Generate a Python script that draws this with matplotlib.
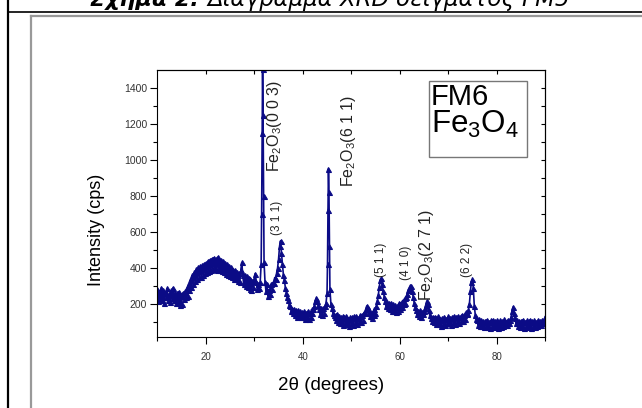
import matplotlib
matplotlib.use("Agg")
import matplotlib.pyplot as plt
from matplotlib.lines import Line2D
from matplotlib.patches import Rectangle

plt.rcParams['font.family'] = ['Liberation Sans', 'DejaVu Sans']
plt.rcParams['mathtext.fontset'] = 'custom'
plt.rcParams['mathtext.rm'] = 'Liberation Sans'
plt.rcParams['mathtext.it'] = 'Liberation Sans:italic'

# XRD scan (2theta in degrees, intensity in cps)
two_theta = [
    10.0, 10.2, 10.4, 10.6, 10.8, 11.0, 11.2, 11.4, 11.6, 11.8,
    12.0, 12.2, 12.4, 12.6, 12.8, 13.0, 13.2, 13.4, 13.6, 13.8,
    14.0, 14.2, 14.4, 14.6, 14.8, 15.0, 15.2, 15.4, 15.6, 15.8,
    16.0, 16.2, 16.4, 16.6, 16.8, 17.0, 17.2, 17.4, 17.6, 17.8,
    18.0, 18.2, 18.4, 18.6, 18.8, 19.0, 19.2, 19.4, 19.6, 19.8,
    20.0, 20.2, 20.4, 20.6, 20.8, 21.0, 21.2, 21.4, 21.6, 21.8,
    22.0, 22.2, 22.4, 22.6, 22.8, 23.0, 23.2, 23.4, 23.6, 23.8,
    24.0, 24.2, 24.4, 24.6, 24.8, 25.0, 25.2, 25.4, 25.6, 25.8,
    26.0, 26.2, 26.4, 26.6, 26.8, 27.0, 27.2, 27.4, 27.6, 27.8,
    28.0, 28.2, 28.4, 28.6, 28.8, 29.0, 29.2, 29.4, 29.6, 29.8,
    30.0, 30.2, 30.4, 30.6, 30.8,
    31.0, 31.2, 31.4, 31.5, 31.6, 31.7, 31.8, 31.9,
    32.0, 32.2, 32.4, 32.6, 32.8, 33.0, 33.2, 33.4, 33.6, 33.8,
    34.0, 34.2, 34.4, 34.6, 34.8, 35.0, 35.2, 35.4, 35.6, 35.8,
    36.0, 36.2, 36.4, 36.6, 36.8, 37.0, 37.2, 37.4, 37.6, 37.8,
    38.0, 38.2, 38.4, 38.6, 38.8, 39.0, 39.2, 39.4, 39.6, 39.8,
    40.0, 40.2, 40.4, 40.6, 40.8, 41.0, 41.2, 41.4, 41.6, 41.8,
    42.0, 42.2, 42.4, 42.6, 42.8, 43.0, 43.2, 43.4, 43.6, 43.8,
    44.0, 44.2, 44.4, 44.6, 44.8,
    45.0, 45.1, 45.2, 45.3, 45.4, 45.5, 45.6, 45.8,
    46.0, 46.2, 46.4, 46.6, 46.8, 47.0, 47.2, 47.4, 47.6, 47.8,
    48.0, 48.2, 48.4, 48.6, 48.8, 49.0, 49.2, 49.4, 49.6, 49.8,
    50.0, 50.2, 50.4, 50.6, 50.8, 51.0, 51.2, 51.4, 51.6, 51.8,
    52.0, 52.2, 52.4, 52.6, 52.8, 53.0, 53.2, 53.4, 53.6, 53.8,
    54.0, 54.2, 54.4, 54.6, 54.8, 55.0, 55.2, 55.4, 55.6, 55.8,
    56.0, 56.2, 56.4, 56.6, 56.8, 57.0, 57.2, 57.4, 57.6, 57.8,
    58.0, 58.2, 58.4, 58.6, 58.8, 59.0, 59.2, 59.4, 59.6, 59.8,
    60.0, 60.2, 60.4, 60.6, 60.8, 61.0, 61.2, 61.4, 61.6, 61.8,
    62.0, 62.2, 62.4, 62.6, 62.8, 63.0, 63.2, 63.4, 63.6, 63.8,
    64.0, 64.2, 64.4, 64.6, 64.8, 65.0, 65.2, 65.4, 65.6, 65.8,
    66.0, 66.2, 66.4, 66.6, 66.8, 67.0, 67.2, 67.4, 67.6, 67.8,
    68.0, 68.2, 68.4, 68.6, 68.8, 69.0, 69.2, 69.4, 69.6, 69.8,
    70.0, 70.2, 70.4, 70.6, 70.8, 71.0, 71.2, 71.4, 71.6, 71.8,
    72.0, 72.2, 72.4, 72.6, 72.8, 73.0, 73.2, 73.4, 73.6, 73.8,
    74.0, 74.2, 74.4, 74.6, 74.8, 75.0, 75.2, 75.4, 75.6, 75.8,
    76.0, 76.2, 76.4, 76.6, 76.8, 77.0, 77.2, 77.4, 77.6, 77.8,
    78.0, 78.2, 78.4, 78.6, 78.8, 79.0, 79.2, 79.4, 79.6, 79.8,
    80.0, 80.2, 80.4, 80.6, 80.8, 81.0, 81.2, 81.4, 81.6, 81.8,
    82.0, 82.2, 82.4, 82.6, 82.8, 83.0, 83.2, 83.4, 83.6, 83.8,
    84.0, 84.2, 84.4, 84.6, 84.8, 85.0, 85.2, 85.4, 85.6, 85.8,
    86.0, 86.2, 86.4, 86.6, 86.8, 87.0, 87.2, 87.4, 87.6, 87.8,
    88.0, 88.2, 88.4, 88.6, 88.8, 89.0, 89.2, 89.4, 89.6, 89.8,
    90.0]
intensity = [
    280, 214, 266, 230, 290, 222, 274, 206, 260, 240,
    286, 220, 254, 210, 274, 230, 290, 222, 260, 206,
    258, 212, 268, 192, 248, 201, 260, 225, 269, 236,
    285, 245, 305, 275, 332, 292, 358, 312, 374, 328,
    392, 336, 404, 351, 410, 351, 414, 360, 422, 371,
    429, 374, 438, 382, 444, 386, 450, 394, 456, 399,
    451, 386, 460, 398, 446, 386, 445, 382, 435, 374,
    426, 366, 420, 358, 408, 352, 406, 346, 390, 338,
    386, 335, 378, 327, 370, 321, 387, 430, 362, 308,
    362, 300, 355, 292, 344, 283, 339, 275, 328, 294,
    340, 368, 320, 280, 312,
    285, 320, 420, 700, 1150, 1505, 1250, 800,
    430, 320, 270, 310, 245, 278, 252, 308, 284, 318,
    318, 345, 335, 372, 400, 450, 520, 550, 480, 420,
    360, 330, 290, 262, 235, 220, 192, 190, 162, 170,
    149, 173, 139, 165, 129, 164, 130, 158, 124, 154,
    125, 157, 117, 151, 121, 158, 114, 148, 128, 168,
    148, 170, 190, 215, 232, 215, 195, 168, 145, 178,
    140, 176, 150, 186, 205,
    260, 420, 720, 950, 820, 520, 280, 200,
    175, 150, 138, 125, 108, 145, 101, 131, 91, 125,
    94, 130, 84, 124, 98, 133, 89, 117, 77, 125,
    92, 128, 84, 132, 100, 130, 86, 122, 102, 136,
    100, 140, 112, 150, 155, 170, 188, 175, 150, 132,
    151, 121, 155, 135, 170, 150, 185, 215, 250, 295,
    330, 342, 310, 270, 240, 215, 185, 212, 176, 202,
    171, 205, 161, 197, 157, 192, 152, 186, 162, 202,
    170, 205, 180, 218, 196, 230, 205, 240, 255, 275,
    285, 300, 298, 270, 235, 205, 182, 165, 145, 162,
    134, 164, 124, 154, 144, 160, 175, 195, 215, 200,
    165, 135, 122, 104, 124, 96, 128, 88, 122, 92,
    133, 85, 117, 77, 123, 89, 129, 83, 117, 93,
    130, 94, 120, 82, 126, 98, 132, 88, 124, 104,
    132, 92, 126, 106, 138, 102, 136, 116, 152, 142,
    150, 165, 200, 270, 320, 335, 290, 190, 140, 115,
    107, 83, 117, 77, 107, 74, 106, 70, 102, 78,
    111, 71, 101, 67, 107, 79, 111, 71, 103, 75,
    107, 67, 101, 75, 111, 70, 102, 78, 114, 82,
    100, 82, 112, 95, 110, 125, 160, 182, 150, 120,
    95, 108, 78, 104, 72, 103, 75, 111, 67, 101,
    79, 107, 71, 103, 75, 111, 67, 103, 79, 107,
    71, 101, 75, 111, 81, 105, 80, 110, 95, 110,
    125]

# peak labels
peak_labels = [r'Fe$_2$O$_3$(0 0 3)', '(3 1 1)', r'Fe$_2$O$_3$(6 1 1)', '(5 1 1)',
               '(4 1 0)', r'Fe$_2$O$_3$(2 7 1)', '(6 2 2)']
label_x = [34.1, 34.7, 49.4, 56.1, 61.4, 65.6, 74.0]
label_y = [930, 580, 849, 348, 330, 218, 348]
label_size = [11.5, 8.5, 11.5, 8.5, 8.5, 11.5, 8.5]

fig = plt.figure(figsize=(6.42, 4.08), dpi=100)
ax = fig.add_axes([0.2453, 0.174, 0.6036, 0.6544])

ax.plot(two_theta, intensity, color='#0b0b86', lw=1.2, marker='^', ms=3.6, mew=0.8)

ax.set_xlim(10, 90)
ax.set_ylim(15, 1500)
ax.set_xticks([20, 40, 60, 80])
ax.set_xticks([10, 30, 50, 70, 90], minor=True)
ax.set_yticks([200, 400, 600, 800, 1000, 1200, 1400])
ax.set_yticks([100, 300, 500, 700, 900, 1100, 1300], minor=True)
ax.tick_params(which='major', direction='out', length=5, width=0.8,
               labelsize=7.5, labelcolor='#333333', pad=2.5)
ax.tick_params(which='minor', direction='out', length=3, width=0.8)
ax.tick_params(axis='x', which='major', pad=6, labelsize=7)

top = ax.secondary_xaxis('top')
top.set_xticks([20, 30, 40, 50, 60, 70, 80])
top.tick_params(direction='in', length=3, labeltop=False)
right = ax.secondary_yaxis('right')
right.set_yticks([100, 200, 300, 400, 500, 600, 700, 800, 900, 1000, 1100, 1200, 1300, 1400])
right.tick_params(direction='in', length=3, labelright=False)

ax.set_xlabel('2θ (degrees)', fontsize=13.5)
ax.xaxis.set_label_coords(0.448, -0.15)
ax.set_ylabel('Intensity (cps)', fontsize=13)
ax.yaxis.set_label_coords(-0.135, 0.40)

for s, x, y, fs in zip(peak_labels, label_x, label_y, label_size):
    ax.text(x, y, s, rotation=90, ha='center', va='bottom', fontsize=fs, color='#222222')

# sample box
ax.add_patch(Rectangle((0.7006, 0.674), 0.2529, 0.2848, transform=ax.transAxes,
                       fill=True, facecolor='white', edgecolor='#777777', lw=1.0, zorder=3))
ax.text(0.706, 0.869, 'FM6', transform=ax.transAxes, fontsize=21, va='baseline', zorder=4)
ax.text(0.706, 0.764, r'Fe$_3$O$_4$', transform=ax.transAxes, fontsize=22.5, va='baseline', zorder=4)

# document frame around the picture
fig.add_artist(Line2D([7.5 / 642, 7.5 / 642], [0, 1], color='black', lw=1.6))
fig.add_artist(Line2D([7.5 / 642, 1], [1 - 11.5 / 408, 1 - 11.5 / 408], color='black', lw=1.2))
fig.add_artist(Line2D([30.5 / 642, 1], [1 - 15.5 / 408, 1 - 15.5 / 408], color='#999999', lw=1.6))
fig.add_artist(Line2D([30.5 / 642, 30.5 / 642], [0, 1 - 15.5 / 408], color='#999999', lw=1.6))

# caption, cut off by the top edge of the picture
fig.text(90 / 642, 1 - 6 / 408, 'Σχήμα 2:', fontsize=16, fontweight='bold', style='italic',
         va='baseline', family=['DejaVu Sans'])
fig.text(207 / 642, 1 - 6 / 408, 'Διάγραμμα XRD δείγματος FM5', fontsize=16.5, style='italic',
         va='baseline', family=['DejaVu Sans'])

fig.savefig('out.png', dpi=100)
